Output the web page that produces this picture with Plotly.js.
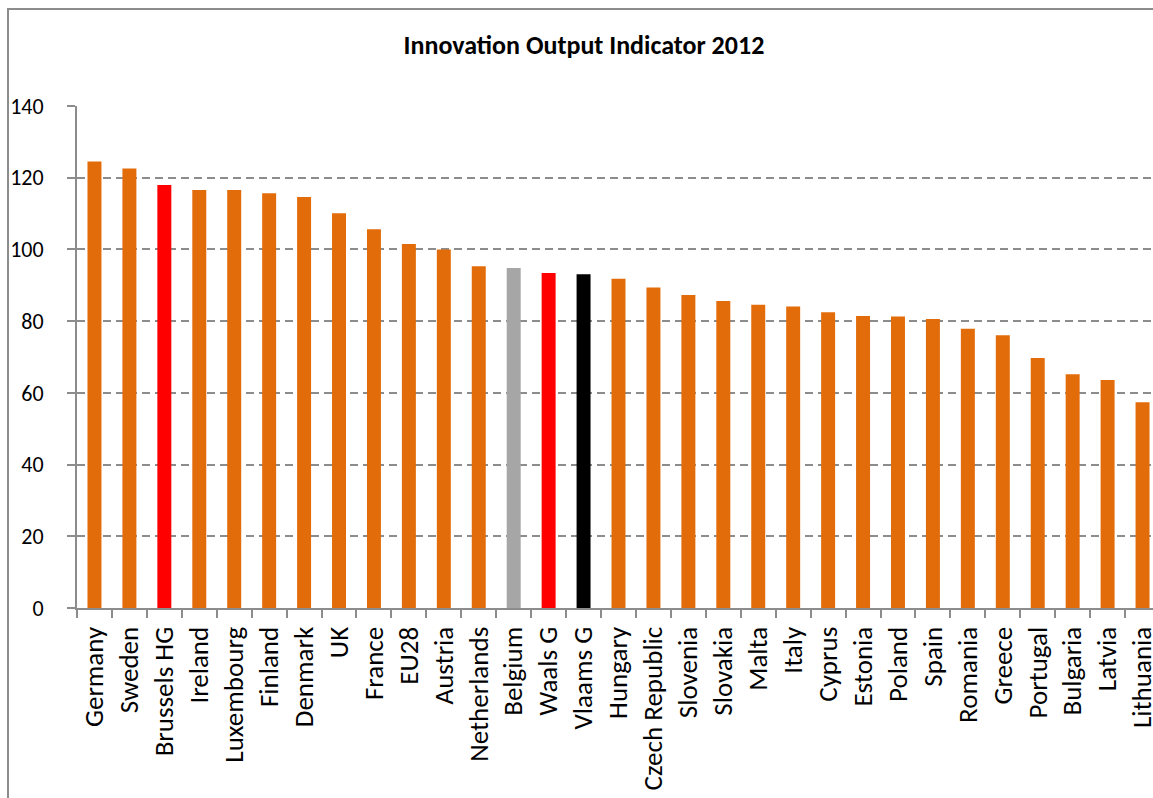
<!DOCTYPE html>
<html>
<head>
<meta charset="utf-8">
<script src="https://cdn.plot.ly/plotly-3.0.1.min.js"></script>
<style>
  html, body { margin: 0; padding: 0; overflow: hidden; background: #fff; width: 1153px; height: 798px; }
  #chart { position: absolute; left: 0; top: 0; width: 1180px; height: 810px; }
  #frame { position: absolute; left: 7px; top: 8px; width: 1200px; height: 850px; border-left: 2px solid #8c8c8c; border-top: 2px solid #8c8c8c; pointer-events: none; }
</style>
</head>
<body>
<div id="chart"></div>
<div id="frame"></div>
<script>
const categories = ["Germany", "Sweden", "Brussels HG", "Ireland", "Luxembourg", "Finland", "Denmark", "UK", "France", "EU28", "Austria", "Netherlands", "Belgium", "Waals G", "Vlaams G", "Hungary", "Czech Republic", "Slovenia", "Slovakia", "Malta", "Italy", "Cyprus", "Estonia", "Poland", "Spain", "Romania", "Greece", "Portugal", "Bulgaria", "Latvia", "Lithuania"];
const values = [124.5, 122.6, 118.0, 116.6, 116.6, 115.7, 114.6, 110.1, 105.6, 101.5, 100.0, 95.3, 94.8, 93.4, 93.1, 91.8, 89.4, 87.3, 85.6, 84.6, 84.1, 82.5, 81.4, 81.3, 80.6, 77.9, 76.1, 69.7, 65.2, 63.6, 57.4];
const barColors = ["#E36C0A", "#E36C0A", "#FF0000", "#E36C0A", "#E36C0A", "#E36C0A", "#E36C0A", "#E36C0A", "#E36C0A", "#E36C0A", "#E36C0A", "#E36C0A", "#A6A6A6", "#FF0000", "#000000", "#E36C0A", "#E36C0A", "#E36C0A", "#E36C0A", "#E36C0A", "#E36C0A", "#E36C0A", "#E36C0A", "#E36C0A", "#E36C0A", "#E36C0A", "#E36C0A", "#E36C0A", "#E36C0A", "#E36C0A", "#E36C0A"];
const yTicks = [0, 20, 40, 60, 80, 100, 120, 140];
const chartTitle = "Innovation Output Indicator 2012";

const font = "Carlito, Lato, 'Liberation Sans', sans-serif";

Plotly.newPlot("chart", [{
  type: "bar",
  x: categories,
  y: values,
  marker: { color: barColors, line: { width: 0 } },
  hoverinfo: "x+y"
}], {
  width: 1180,
  height: 810,
  margin: { l: 77, r: 20, t: 106, b: 202 },
  paper_bgcolor: "#ffffff",
  plot_bgcolor: "#ffffff",
  bargap: 0.6,
  showlegend: false,
  font: { family: font, color: "#000000", size: 27 },
  title: {
    text: "<b>" + chartTitle + "</b>",
    font: { family: font, size: 26, color: "#000000" },
    xref: "container", x: 0.4949, xanchor: "center",
    yref: "container", y: 0.9444, yanchor: "middle"
  },
  xaxis: {
    type: "category",
    tickangle: -90,
    tickfont: { family: font, size: 27, color: "#000000" },
    showline: true, linecolor: "#8c8c8c", linewidth: 2,
    ticks: "outside", ticklen: 8, tickcolor: "#8c8c8c", tickwidth: 2,
    tickson: "boundaries",
    showgrid: false,
    ticklabelstandoff: 6,
    automargin: false
  },
  yaxis: {
    range: [0, 140],
    tickvals: yTicks,
    ticktext: yTicks.map(String),
    tickfont: { family: font, size: 22, color: "#000000" },
    showline: true, linecolor: "#8c8c8c", linewidth: 2,
    ticks: "outside", ticklen: 8, tickcolor: "#8c8c8c", tickwidth: 2,
    showgrid: true, gridcolor: "#8c8c8c", gridwidth: 2, griddash: "8px,5px",
    zeroline: false,
    ticklabelstandoff: 19,
    automargin: false
  }
}, { displayModeBar: false, staticPlot: true });
</script>
</body>
</html>
